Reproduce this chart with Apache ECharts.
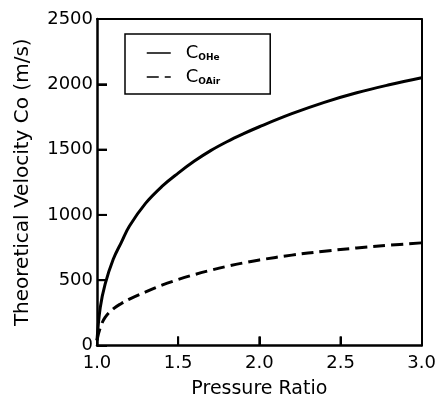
<!DOCTYPE html>
<html>
<head>
<meta charset="utf-8">
<script src="https://cdn.jsdelivr.net/npm/echarts@6/dist/echarts.min.js"></script>
<style>
  html, body { margin: 0; padding: 0; background: #fff; }
  #chart { width: 439px; height: 404px; }
</style>
</head>
<body>
<div id="chart"></div>
<script>
// pressure ratio samples
const pressureRatio = [1.0, 1.02, 1.05, 1.1, 1.15, 1.2, 1.3, 1.4, 1.5, 1.6, 1.7, 1.8, 1.9, 2.0, 2.2, 2.4, 2.6, 2.8, 3.0]
// theoretical velocity (m/s), helium
const velocityHe = [40, 290, 470, 660, 790, 915, 1090, 1218, 1320, 1412, 1492, 1560, 1620, 1675, 1775, 1862, 1935, 1996, 2050]
// theoretical velocity (m/s), air
const velocityAir = [40, 135, 215, 280, 322, 355, 410, 462, 505, 543, 576, 606, 632, 655, 692, 722, 747, 768, 786]

// inner tick marks drawn on the axes
const xTicks = [1.5, 2.0, 2.5]
const yTicks = [500, 1000, 1500, 2000]
const xMin = 1.0, xMax = 3.0, yMin = 0, yMax = 2500

const font = 'DejaVu Sans, sans-serif'
const chart = echarts.init(document.getElementById('chart'))

const toPairs = (xs, ys) => xs.map((x, i) => [x, ys[i]])

// plain frame axes for the top and right edges of the box
const frameAxis = {
  axisLine: { show: true, lineStyle: { color: '#000', width: 2 } },
  axisTick: { show: false },
  axisLabel: { show: false },
  splitLine: { show: false }
}

// short tick stroke pointing into the plot
const tickSeries = (data, dx, dy) => ({
  type: 'custom',
  coordinateSystem: 'cartesian2d',
  clip: false,
  silent: true,
  z: 5,
  data: data,
  renderItem: (params, api) => {
    const p = api.coord([api.value(0), api.value(1)])
    return {
      type: 'line',
      shape: { x1: p[0], y1: p[1], x2: p[0] + dx, y2: p[1] + dy },
      style: { stroke: '#000', lineWidth: 2 }
    }
  }
})

chart.setOption({
  backgroundColor: '#fff',
  animation: false,
  grid: {
    left: 97,
    right: 16,
    top: 19,
    bottom: 56
  },
  legend: {
    orient: 'vertical',
    left: 125,
    top: 34,
    width: 149,
    padding: [10, 50, 8, 21],
    itemGap: 6,
    itemWidth: 24,
    itemHeight: 14,
    borderColor: '#000',
    borderWidth: 1.5,
    lineStyle: { width: 1.5 },
    itemStyle: { opacity: 0 },
    data: ['He', 'Air'],
    formatter: name => '{c|C}{s|O' + name + '}',
    textStyle: {
      rich: {
        c: { fontFamily: font, fontSize: 18, color: '#000', padding: [0, 0, 0, 10] },
        s: { fontFamily: font, fontSize: 9, fontWeight: 'bold', color: '#000', verticalAlign: 'bottom', padding: [3, 0, 0, 0] }
      }
    }
  },
  xAxis: [
    {
      type: 'value',
      min: xMin,
      max: xMax,
      interval: 0.5,
      name: 'Pressure Ratio',
      nameLocation: 'middle',
      nameGap: 36,
      nameTextStyle: { fontFamily: font, fontSize: 19, lineHeight: 16, color: '#000' },
      axisLine: { show: true, onZero: false, lineStyle: { color: '#000', width: 2.5 } },
      axisTick: { show: true, inside: true, length: 9, lineStyle: { color: '#000', width: 2 } },
      axisLabel: {
        margin: 9,
        fontFamily: font,
        fontSize: 18,
        color: '#000',
        formatter: v => v.toFixed(1)
      },
      splitLine: { show: false }
    },
    Object.assign({ type: 'value', position: 'top', min: xMin, max: xMax }, frameAxis, {
      axisLine: { show: true, onZeroAxisIndex: 1, lineStyle: { color: '#000', width: 2 } }
    })
  ],
  yAxis: [
    {
      type: 'value',
      min: yMin,
      max: yMax,
      interval: 500,
      name: 'Theoretical Velocity Co (m/s)',
      nameLocation: 'middle',
      nameGap: 64,
      nameTextStyle: { fontFamily: font, fontSize: 20, color: '#000' },
      axisLine: { show: true, onZero: false, lineStyle: { color: '#000', width: 2.5 } },
      axisTick: { show: true, inside: true, length: 10, lineStyle: { color: '#000', width: 2 } },
      axisLabel: {
        margin: 4,
        fontFamily: font,
        fontSize: 18,
        color: '#000',
        formatter: v => String(v)
      },
      splitLine: { show: false }
    },
    Object.assign({ type: 'value', position: 'right', min: 1, max: yMax + 1 }, frameAxis)
  ],
  series: [
    {
      name: 'He',
      type: 'line',
      data: toPairs(pressureRatio, velocityHe),
      smooth: 0.4,
      symbol: 'none',
      lineStyle: { color: '#000', width: 3 },
      itemStyle: { color: '#000' }
    },
    {
      name: 'Air',
      type: 'line',
      data: toPairs(pressureRatio, velocityAir),
      smooth: 0.4,
      symbol: 'none',
      lineStyle: { color: '#000', width: 3, type: [12, 6] },
      itemStyle: { color: '#000' }
    },
    tickSeries(yTicks.map(v => [xMin, v]), 10, 0),
    tickSeries(xTicks.map(v => [v, yMin]), 0, -9)
  ]
})
</script>
</body>
</html>
